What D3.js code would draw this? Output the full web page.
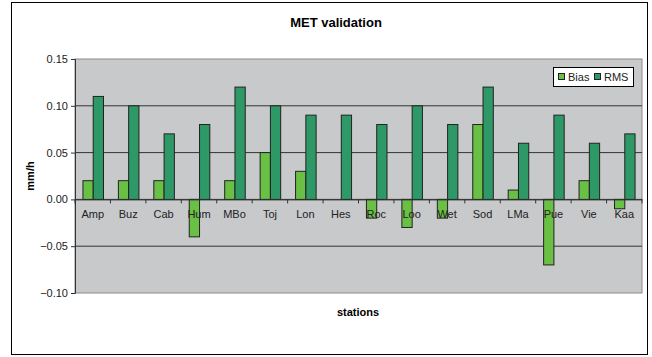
<!DOCTYPE html>
<html><head><meta charset="utf-8">
<script src="https://cdn.jsdelivr.net/npm/d3@7/dist/d3.min.js"></script>
<style>body{margin:0;background:#fff}svg{display:block;font-family:"Liberation Sans",Arial,sans-serif}</style>
</head><body>
<script>
const stations = ["Amp","Buz","Cab","Hum","MBo","Toj","Lon","Hes","Roc","Loo","Wet","Sod","LMa","Pue","Vie","Kaa"];
const bias = [0.02,0.02,0.02,-0.04,0.02,0.05,0.03,0,-0.02,-0.03,-0.02,0.08,0.01,-0.07,0.02,-0.01];
const rms  = [0.11,0.10,0.07,0.08,0.12,0.10,0.09,0.09,0.08,0.10,0.08,0.12,0.06,0.09,0.06,0.07];
const yTicks = [-0.10,-0.05,0.00,0.05,0.10,0.15];
const seriesNames = ["Bias","RMS"];
const colors = {Bias:"#6abf45", RMS:"#2e9966"};

const W=652,H=357;
const svg=d3.select("body").append("svg").attr("width",W).attr("height",H);
svg.append("rect").attr("x",11.5).attr("y",2.5).attr("width",636).attr("height",352).attr("fill","#fff").attr("stroke","#000");

const L=75,R=642,T=59,B=293;
const x=d3.scaleBand().domain(stations).range([L,R]);
const y=d3.scaleLinear().domain([-0.10,0.15]).range([B,T]);
const bw=x.bandwidth()*0.29;

svg.append("rect").attr("x",L).attr("y",T).attr("width",R-L).attr("height",B-T).attr("fill","#c8c9cb").attr("stroke","#8a8a8a");
// gridlines
svg.append("g").selectAll("line").data(yTicks.filter(v=>v!==0.15 && v!==-0.10)).join("line")
  .attr("x1",L).attr("x2",R).attr("y1",d=>y(d)).attr("y2",d=>y(d)).attr("stroke","#333").attr("stroke-width",1);

// y axis
const ya=svg.append("g").attr("transform",`translate(${L},0)`).call(d3.axisLeft(y).tickValues(yTicks).tickFormat(d3.format(".2f")).tickSize(4).tickPadding(3));
ya.select(".domain").attr("stroke","#333");
ya.selectAll("line").attr("stroke","#333");
ya.selectAll("text").attr("font-size",11).attr("fill","#222").attr("font-family","Liberation Sans, Arial, sans-serif");

// bars
const g=svg.append("g");
stations.forEach((s,i)=>{
  const c=x(s)+x.bandwidth()/2;
  [[bias[i],"Bias",c-bw],[rms[i],"RMS",c]].forEach(([v,n,x0])=>{
    if(v===0) return;
    g.append("rect").attr("x",x0+0.5).attr("y",y(Math.max(v,0))).attr("width",bw)
     .attr("height",Math.abs(y(v)-y(0))).attr("fill",colors[n]).attr("stroke","#222").attr("stroke-width",1);
  });
});

// x axis at zero (drawn over bars)
const xa=svg.append("g").attr("transform",`translate(0,${y(0)})`).call(d3.axisBottom(x).tickSize(0).tickPadding(11));
xa.select(".domain").attr("stroke","#333");
xa.selectAll("text").attr("font-size",11).attr("fill","#222").attr("font-family","Liberation Sans, Arial, sans-serif");
svg.append("g").selectAll("line").data(stations.concat(["_end"])).join("line")
  .attr("x1",(d,i)=>L+i*x.step()).attr("x2",(d,i)=>L+i*x.step())
  .attr("y1",y(0)).attr("y2",y(0)+4).attr("stroke","#333");

// titles
svg.append("text").attr("x",336).attr("y",27).attr("text-anchor","middle").attr("font-weight","bold").attr("font-size",13).text("MET validation");
svg.append("text").attr("x",358).attr("y",316).attr("text-anchor","middle").attr("font-weight","bold").attr("font-size",11).text("stations");
svg.append("text").attr("transform",`translate(34,${(T+B)/2}) rotate(-90)`).attr("text-anchor","middle").attr("font-weight","bold").attr("font-size",11).text("mm/h");

// legend
const lg=svg.append("g").attr("transform","translate(553,67)");
lg.append("rect").attr("x",0.5).attr("y",0.5).attr("width",80).attr("height",19).attr("fill","#fff").attr("stroke","#000");
const items=[{n:"Bias",x:5},{n:"RMS",x:41}];
items.forEach(it=>{
  lg.append("rect").attr("x",it.x+0.5).attr("y",6.5).attr("width",6).attr("height",6).attr("fill",colors[it.n]).attr("stroke","#222");
  lg.append("text").attr("x",it.x+10).attr("y",14).attr("font-size",11).attr("fill","#222").text(it.n);
});
</script>
</body></html>
